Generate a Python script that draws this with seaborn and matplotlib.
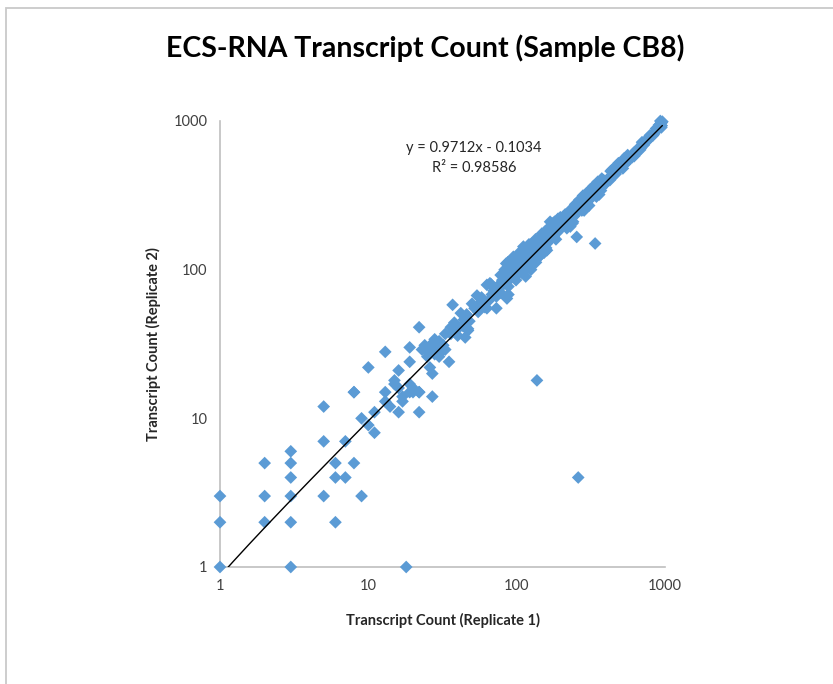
import numpy as np
import pandas as pd
import matplotlib
matplotlib.use("Agg")
import matplotlib.pyplot as plt
import seaborn as sns
from matplotlib.patches import Rectangle

# ---- data ----
rep1_low = [1, 1, 1, 2, 2, 2, 3, 3, 3, 3, 3, 3, 5, 5, 5, 6, 6, 6, 7, 7, 8, 8, 9, 9, 10,
            11, 11, 13, 13, 14, 16, 17, 17, 15, 20, 20, 22, 27, 22, 18, 8, 10, 13]
rep2_low = [1, 2, 3, 5, 3, 2, 6, 5, 4, 3, 2, 1, 12, 7, 3, 5, 4, 2, 7, 4, 15, 5, 10, 3, 9,
            11, 8, 15, 13, 12, 11, 14, 13, 17, 16, 15, 15, 14, 11, 1, 15, 22, 28]

rep1_mid = [23, 24, 25, 26, 27, 28, 29, 30, 31, 32, 33, 25, 28, 30, 35, 36, 40, 33, 36, 37,
            42, 44, 47, 45, 47, 50, 54, 22, 19, 19, 16, 15, 16, 19, 19, 22, 27, 38, 40, 43,
            46, 48, 26]
rep2_mid = [29, 31, 28, 30, 32, 27, 30, 33, 28, 31, 29, 26, 34, 26, 24, 37, 40, 37, 41, 58,
            51, 46, 39, 35, 40, 59, 67, 41, 30, 24, 21, 18, 16, 17, 15, 15, 20, 44, 36, 42,
            50, 45, 22]

rep1_100 = [52, 55, 57, 60, 61, 63, 63, 66, 67, 73, 73, 70, 75, 78, 80, 84, 86, 88, 88, 90,
            92, 95, 96, 98, 58, 65, 68, 82, 85, 90, 93, 97, 99, 100, 78, 83, 87, 94]
rep2_100 = [55, 52, 60, 57, 56, 55, 79, 81, 80, 66, 55, 72, 78, 70, 85, 94, 64, 77, 68, 95,
            88, 122, 100, 90, 65, 62, 68, 80, 110, 105, 115, 108, 85, 95, 92, 100, 112, 118]

rep1_200 = [105, 111, 115, 102, 108, 110, 113, 118, 120, 122, 125, 128, 130, 133, 137, 138,
            140, 143, 147, 150, 153, 156, 160, 163, 166, 168, 170, 175, 178, 182, 185, 188,
            192, 195, 198, 115, 125, 135, 145, 160, 104, 118, 150, 176,
            101, 107, 112, 121, 127, 134, 142, 148, 155, 165, 172, 180, 190, 197, 109, 131,
            139, 158, 184]
rep2_200 = [110, 143, 100, 120, 98, 115, 125, 110, 130, 105, 118, 135, 120, 128, 18, 145,
            125, 135, 150, 140, 130, 160, 150, 155, 172, 210, 160, 180, 168, 175, 195, 178,
            185, 200, 190, 90, 100, 112, 125, 135, 130, 140, 170, 205,
            112, 128, 138, 148, 150, 160, 162, 175, 180, 192, 198, 210, 220, 225, 95, 112,
            120, 140, 160]

rep1_400 = [204, 206, 210, 215, 220, 225, 230, 235, 240, 245, 250, 254, 258, 260, 262, 268,
            272, 278, 283, 288, 293, 298, 303, 310, 315, 320, 325, 330, 338, 335, 342, 350,
            358, 365, 372, 380, 388, 395, 240, 275, 300, 320, 345, 370, 385,
            212, 228, 248, 265, 280, 295, 312, 330, 352, 375, 218, 238, 285, 308, 360]
rep2_400 = [195, 227, 205, 215, 200, 230, 195, 225, 240, 230, 250, 166, 245, 4, 262, 255,
            280, 265, 290, 275, 300, 285, 310, 300, 320, 305, 335, 315, 150, 340, 330, 350,
            340, 365, 355, 380, 370, 395, 210, 250, 330, 350, 310, 340, 400,
            235, 250, 275, 295, 315, 325, 345, 365, 390, 410, 190, 205, 250, 270, 320]

rep1_high = [405, 415, 425, 435, 445, 455, 465, 478, 490, 500, 512, 525, 540, 555, 570, 585,
             600, 615, 630, 645, 660, 675, 690, 705, 720, 740, 760, 780, 800, 820, 845, 865,
             885, 905, 920, 935, 950, 960, 945, 910, 870, 830, 790, 470, 520, 560, 620, 700,
             430, 650, 930, 950, 440, 485, 530, 600, 680, 760]
rep2_high = [390, 410, 400, 430, 425, 450, 440, 470, 480, 505, 490, 520, 515, 550, 545, 575,
             580, 610, 600, 640, 635, 665, 660, 700, 690, 730, 735, 770, 780, 810, 820, 860,
             870, 900, 910, 960, 930, 990, 905, 940, 890, 800, 800, 500, 480, 590, 580, 720,
             460, 620, 1000, 975, 470, 520, 560, 570, 640, 760]

slope, intercept, r2 = 0.9712, -0.1034, 0.98586
tick_values = [1, 10, 100, 1000]
tick_labels = ["1", "10", "100", "1000"]

df = pd.DataFrame({
    "rep1": rep1_low + rep1_mid + rep1_100 + rep1_200 + rep1_400 + rep1_high,
    "rep2": rep2_low + rep2_mid + rep2_100 + rep2_200 + rep2_400 + rep2_high,
})

# ---- style ----
sns.set_style("white")
plt.rcParams["font.family"] = ["Lato", "DejaVu Sans"]

fig = plt.figure(figsize=(8.33, 6.84), dpi=100)
ax = fig.add_axes([220 / 833, 1 - 567 / 684, 445 / 833, 446 / 684])

# border around the chart area
fig.patches.append(Rectangle((6 / 833, -0.05), 1.1, 1 - 8 / 684 + 0.05,
                             transform=fig.transFigure, fill=False,
                             edgecolor="#c9c9c9", linewidth=1.3, zorder=0))

sns.scatterplot(data=df, x="rep1", y="rep2", marker="D", s=42, color="#5b9bd5",
                edgecolor="none", ax=ax, zorder=3, clip_on=False)

# linear trendline (as drawn by Excel on log axes)
xmin, xmax = df["rep1"].min(), df["rep1"].max()
xl = np.geomspace(xmin, xmax, 400)
yl = slope * xl + intercept
ax.plot(xl, yl, color="black", linewidth=1.0, zorder=4)

ax.set_xscale("log")
ax.set_yscale("log")
ax.set_xlim(1, 1000)
ax.set_ylim(1, 1000)
ax.set_xticks(tick_values)
ax.set_xticklabels(tick_labels)
ax.set_yticks(tick_values)
ax.set_yticklabels(tick_labels)
ax.minorticks_off()
ax.tick_params(axis="both", length=0, labelsize=10.5, colors="#404040", pad=9)

for side in ["top", "right"]:
    ax.spines[side].set_visible(False)
for side in ["left", "bottom"]:
    ax.spines[side].set_color("#bfbfbf")
    ax.spines[side].set_linewidth(1.2)

ax.set_xlabel("Transcript Count (Replicate 1)", fontsize=10.5, fontweight="bold",
              color="#262626", labelpad=14)
ax.set_ylabel("Transcript Count (Replicate 2)", fontsize=10.5, fontweight="bold",
              color="#262626", labelpad=9)

fig.text(425 / 833, 1 - 48 / 684, "ECS-RNA Transcript Count (Sample CB8)",
         ha="center", va="center", fontsize=20.5, fontweight="bold", color="black")

ax.text(474 / 833, 1 - 148 / 684, f"y = {slope}x - {abs(intercept)}",
        transform=fig.transFigure, ha="center", va="center", fontsize=10.5, color="#262626")
ax.text(474 / 833, 1 - 168 / 684, f"R\u00b2 = {r2}",
        transform=fig.transFigure, ha="center", va="center", fontsize=10.5, color="#262626")

fig.savefig("out.png", dpi=100, facecolor="white")
